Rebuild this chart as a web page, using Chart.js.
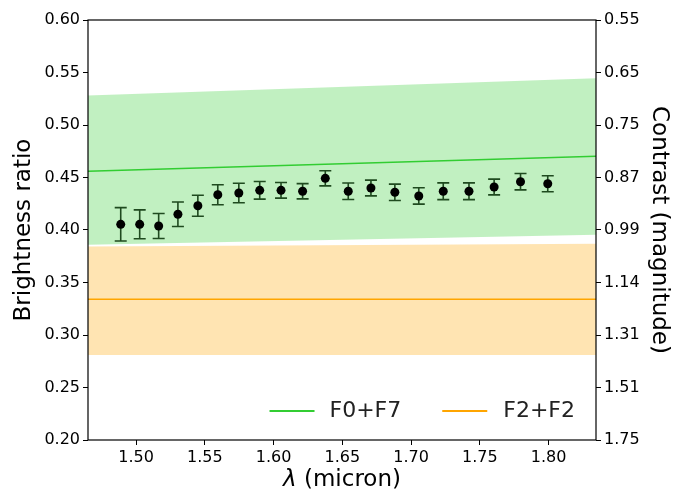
<!DOCTYPE html>
<html>
<head>
<meta charset="utf-8">
<script src="https://cdn.jsdelivr.net/npm/chart.js@4.4.1/dist/chart.umd.min.js"></script>
<style>
  body { margin: 0; background: #fff; }
  #wrap { width: 687px; height: 493px; }
</style>
</head>
<body>
<div id="wrap"><canvas id="ratiochart" width="687" height="493"></canvas></div>
<script>
// measured points
const lambda = [1.4888, 1.5026, 1.5164, 1.5304, 1.5449, 1.5594, 1.5747, 1.5899, 1.6054, 1.6211,
                1.6376, 1.6543, 1.6708, 1.6882, 1.7056, 1.7234, 1.7421, 1.7604, 1.7796, 1.7994];
const ratio = [0.4054, 0.4054, 0.4038, 0.4150, 0.4231, 0.4336, 0.4352, 0.4378, 0.4378, 0.4369,
               0.4492, 0.4369, 0.4400, 0.4359, 0.4324, 0.4369, 0.4369, 0.4410, 0.4460, 0.4441];
const ratioErr = [0.0159, 0.0138, 0.0119, 0.0116, 0.0100, 0.0095, 0.0093, 0.0084, 0.0074, 0.0073,
                  0.0072, 0.0078, 0.0075, 0.0078, 0.0078, 0.0080, 0.0080, 0.0075, 0.0078, 0.0076];

// model bands (value at left and right edge of the plot)
const modelLambda = [1.465, 1.8345];
const f0f7 = [0.4560, 0.4702];
const f0f7Upper = [0.5280, 0.5445];
const f0f7Lower = [0.3860, 0.3955];
const f2f2 = [0.3340, 0.3340];
const f2f2Upper = [0.3843, 0.3870];
const f2f2Lower = [0.2810, 0.2810];

// axes
const xTicks = [1.50, 1.55, 1.60, 1.65, 1.70, 1.75, 1.80];
const ratioTicks = [0.20, 0.25, 0.30, 0.35, 0.40, 0.45, 0.50, 0.55, 0.60];
const contrastLabels = ['1.75', '1.51', '1.31', '1.14', '0.99', '0.87', '0.75', '0.65', '0.55'];

const FONT = "'DejaVu Sans', 'Liberation Sans', sans-serif";
const green = '#32cd32';
const orange = '#ffa500';

function pts(xs, ys) {
    return xs.map((x, i) => ({ x: x, y: ys[i] }));
}

// error bars under the markers
const errorBars = {
    id: 'errorBars',
    beforeDatasetDraw(chart, args) {
        if (args.index !== 0) return;
        const ctx = chart.ctx;
        const xs = chart.scales.x, ys = chart.scales.y;
        ctx.save();
        ctx.strokeStyle = '#1f4a1f';
        ctx.lineWidth = 1.6;
        for (let i = 0; i < lambda.length; i++) {
            const px = xs.getPixelForValue(lambda[i]);
            const top = ys.getPixelForValue(ratio[i] + ratioErr[i]);
            const bot = ys.getPixelForValue(ratio[i] - ratioErr[i]);
            ctx.beginPath();
            ctx.moveTo(px, top); ctx.lineTo(px, bot);
            ctx.moveTo(px - 6, top); ctx.lineTo(px + 6, top);
            ctx.moveTo(px - 6, bot); ctx.lineTo(px + 6, bot);
            ctx.stroke();
        }
        ctx.restore();
    }
};

// frame, legend and x title
const extras = {
    id: 'extras',
    afterDraw(chart) {
        const ctx = chart.ctx;
        const a = chart.chartArea;
        ctx.save();
        ctx.strokeStyle = '#000';
        ctx.lineWidth = 1.2;
        ctx.strokeRect(a.left, a.top, a.right - a.left, a.bottom - a.top);

        // legend
        ctx.font = '22px ' + FONT;
        ctx.textBaseline = 'middle';
        ctx.fillStyle = '#222';
        const items = [chart.data.datasets[1], chart.data.datasets[2]];
        const w1 = ctx.measureText(items[0].label).width;
        const w2 = ctx.measureText(items[1].label).width;
        const y = a.bottom - 29;
        const t2 = a.right - 21 - w2;
        const h2 = t2 - 16 - 45;
        const t1 = h2 - 41 - w1;
        const h1 = t1 - 15 - 45;
        [[h1, t1, items[0]], [h2, t2, items[1]]].forEach(([hx, tx, ds]) => {
            ctx.strokeStyle = ds.borderColor;
            ctx.lineWidth = 1.8;
            ctx.beginPath();
            ctx.moveTo(hx, y); ctx.lineTo(hx + 45, y);
            ctx.stroke();
            ctx.fillText(ds.label, tx, y);
        });

        // x title with italic lambda
        const cx = (a.left + a.right) / 2;
        const ty = 486;
        ctx.fillStyle = '#000';
        ctx.textBaseline = 'alphabetic';
        ctx.font = 'italic 23px ' + FONT;
        const lam = 'λ';
        const wl = ctx.measureText(lam).width;
        ctx.font = '23px ' + FONT;
        const rest = ' (micron)';
        const wr = ctx.measureText(rest).width;
        const sx = cx - (wl + wr) / 2;
        ctx.font = 'italic 23px ' + FONT;
        ctx.fillText(lam, sx, ty);
        ctx.font = '23px ' + FONT;
        ctx.fillText(rest, sx + wl, ty);
        ctx.restore();
    }
};

const tickGrid = {
    display: true,
    drawOnChartArea: false,
    drawTicks: true,
    tickLength: 5,
    color: '#000',
    lineWidth: 1
};

const mychart = document.getElementById('ratiochart');
const ratiochart = new Chart(mychart, {
    type: 'line',
    data: {
        datasets: [
            {
                label: 'data',
                data: pts(lambda, ratio),
                showLine: false,
                pointRadius: 4.5,
                pointBackgroundColor: '#000',
                pointBorderColor: '#000',
                pointBorderWidth: 0
            },
            {
                label: 'F0+F7',
                data: pts(modelLambda, f0f7),
                borderColor: green,
                borderWidth: 1.6,
                pointRadius: 0,
                fill: false
            },
            {
                label: 'F2+F2',
                data: pts(modelLambda, f2f2),
                borderColor: orange,
                borderWidth: 1.6,
                pointRadius: 0,
                fill: false
            },
            {
                label: 'F2+F2 upper',
                data: pts(modelLambda, f2f2Upper),
                borderWidth: 0,
                pointRadius: 0,
                backgroundColor: 'rgba(255,165,0,0.3)',
                fill: '+1'
            },
            {
                label: 'F2+F2 lower',
                data: pts(modelLambda, f2f2Lower),
                borderWidth: 0,
                pointRadius: 0,
                fill: false
            },
            {
                label: 'F0+F7 upper',
                data: pts(modelLambda, f0f7Upper),
                borderWidth: 0,
                pointRadius: 0,
                backgroundColor: 'rgba(50,205,50,0.3)',
                fill: '+1'
            },
            {
                label: 'F0+F7 lower',
                data: pts(modelLambda, f0f7Lower),
                borderWidth: 0,
                pointRadius: 0,
                fill: false
            }
        ]
    },
    options: {
        responsive: false,
        animation: false,
        layout: { padding: { top: 20, left: 0, right: 0, bottom: 0 } },
        plugins: {
            legend: { display: false },
            tooltip: { enabled: false }
        },
        scales: {
            x: {
                type: 'linear',
                position: 'bottom',
                min: modelLambda[0],
                max: modelLambda[1],
                grid: tickGrid,
                border: { display: false },
                afterBuildTicks: s => { s.ticks = xTicks.map(v => ({ value: v })); },
                afterFit: s => { s.height = 53; },
                ticks: {
                    color: '#000',
                    padding: 3,
                    maxRotation: 0,
                    font: { family: FONT, size: 16 },
                    callback: v => Number(v).toFixed(2)
                },
                title: { display: false }
            },
            y: {
                position: 'left',
                min: 0.2,
                max: 0.6,
                grid: tickGrid,
                border: { display: false },
                afterBuildTicks: s => { s.ticks = ratioTicks.map(v => ({ value: v })); },
                afterFit: s => { s.width = 88; },
                ticks: {
                    color: '#000',
                    padding: 3,
                    font: { family: FONT, size: 16 },
                    callback: v => Number(v).toFixed(2)
                },
                title: {
                    display: true,
                    text: 'Brightness ratio',
                    color: '#000',
                    font: { family: FONT, size: 23 },
                    padding: { top: 10, bottom: 0 }
                }
            },
            y2: {
                position: 'right',
                min: 0.2,
                max: 0.6,
                grid: tickGrid,
                border: { display: false },
                afterBuildTicks: s => { s.ticks = ratioTicks.map(v => ({ value: v })); },
                afterFit: s => { s.width = 91; },
                ticks: {
                    color: '#000',
                    padding: 3,
                    font: { family: FONT, size: 16 },
                    callback: (v, i) => contrastLabels[i]
                },
                title: {
                    display: true,
                    text: 'Contrast (magnitude)',
                    color: '#000',
                    font: { family: FONT, size: 23 },
                    padding: { top: 14, bottom: 0 }
                }
            }
        }
    },
    plugins: [errorBars, extras]
});
</script>
</body>
</html>
